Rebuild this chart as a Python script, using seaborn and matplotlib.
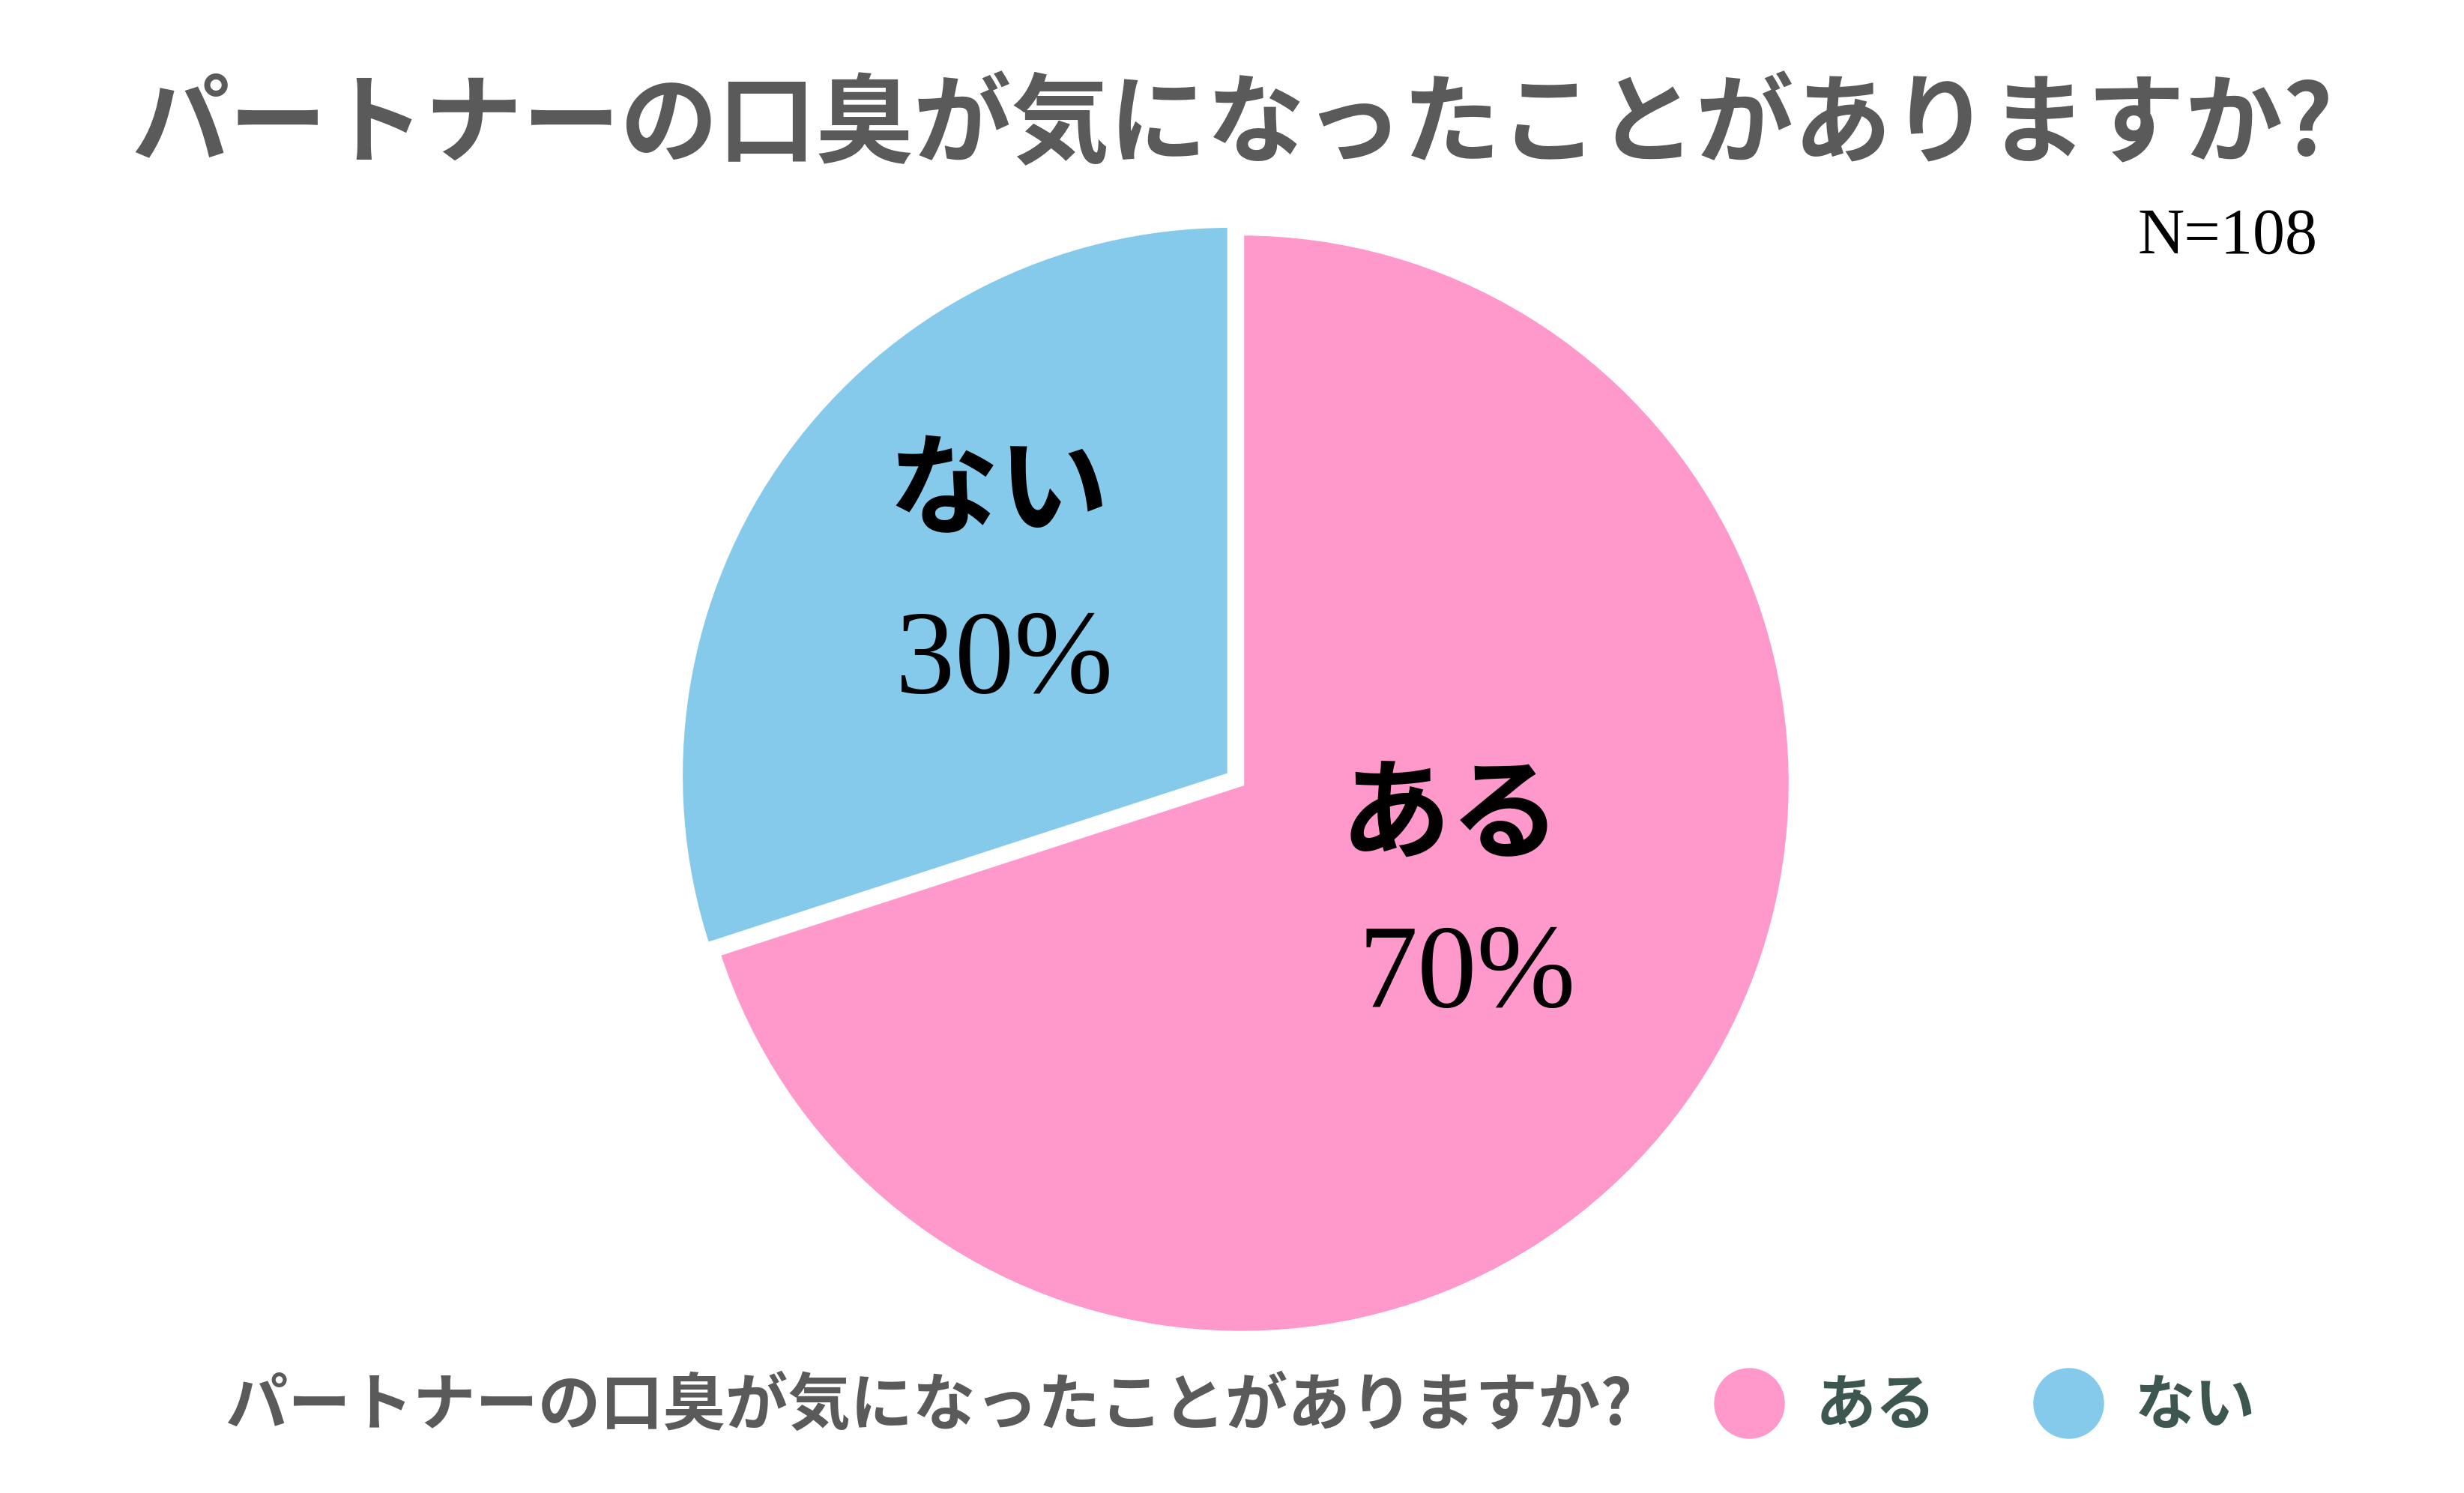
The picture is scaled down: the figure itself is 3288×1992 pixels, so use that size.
import matplotlib
matplotlib.use("Agg")
import matplotlib.pyplot as plt
import seaborn as sns
from matplotlib.lines import Line2D

# ---- data ----
categories = ["ある", "ない"]
values = [70, 30]
pct_labels = ["70%", "30%"]
colors = ["#FF99CC", "#85CAEA"]
title = "パートナーの口臭が気になったことがありますか?"
n_text = "N=108"

sns.set_theme(style="white")
plt.rcParams['font.family'] = ['Noto Sans CJK JP', 'DejaVu Sans']

fig = plt.figure(figsize=(16.44, 9.96), dpi=200)
fig.patch.set_facecolor("white")

ax = fig.add_axes([0.278, 0.109, 0.447, 0.738])
wedges, _ = ax.pie(values, colors=colors, startangle=90, counterclock=False,
                   explode=[0.012, 0.012], radius=1.0,
                   wedgeprops=dict(edgecolor="white", linewidth=3))
for w in wedges:
    w.set_clip_on(False)
ax.set_xlim(-1, 1)
ax.set_ylim(-1, 1)
ax.set_aspect("equal")
ax.axis("off")

# inner labels
cat_pos = [(0.39, -0.07), (-0.43, 0.52)]
pct_pos = [(0.42, -0.36), (-0.42, 0.21)]
for c, p, cp, pp in zip(categories, pct_labels, cat_pos, pct_pos):
    ax.text(cp[0], cp[1], c, ha="center", va="center", fontsize=53,
            fontweight="bold", color="black",
            family=['Noto Sans CJK JP', 'DejaVu Sans'])
    ax.text(pp[0], pp[1], p, ha="center", va="center", fontsize=57,
            color="black", family=['Liberation Serif', 'DejaVu Serif'])

# title
fig.text(0.500, 0.915, title, ha="center", va="center", fontsize=47,
         fontweight="bold", color="#5A5A5A")
fig.text(0.9405, 0.841, n_text, ha="right", va="center", fontsize=31,
         color="black", family=['Liberation Serif', 'DejaVu Serif'])

# legend
fig.text(0.377, 0.058, title, ha="center", va="center", fontsize=30,
         fontweight="bold", color="#5A5A5A")
handles = [Line2D([0], [0], marker="o", linestyle="", markersize=33,
                  markerfacecolor=col, markeredgecolor=col) for col in colors]
leg = fig.legend(handles, categories, loc="center left",
                 bbox_to_anchor=(0.673, 0.058), ncol=2, frameon=False,
                 fontsize=29, handletextpad=0.5, columnspacing=1.6,
                 handlelength=1.2)
for t in leg.get_texts():
    t.set_color("#3D5650")
    t.set_fontweight("bold")

fig.savefig("out.png", dpi=200, facecolor="white")
